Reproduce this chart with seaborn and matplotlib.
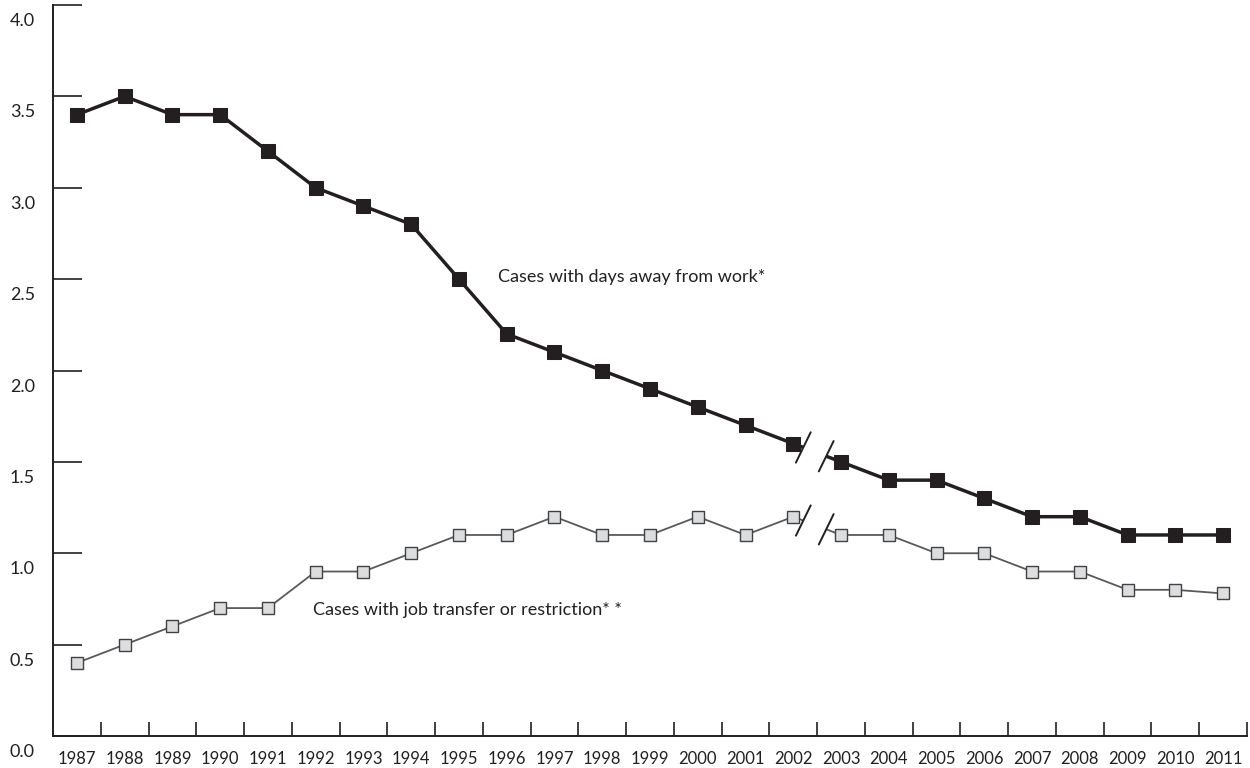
import matplotlib
matplotlib.use("Agg")
import matplotlib.pyplot as plt
import seaborn as sns
import pandas as pd
import numpy as np

# data
years = list(range(1987, 2012))
days_away = [3.4, 3.5, 3.4, 3.4, 3.2, 3.0, 2.9, 2.8, 2.5, 2.2, 2.1, 2.0, 1.9,
             1.8, 1.7, 1.6, 1.5, 1.4, 1.4, 1.3, 1.2, 1.2, 1.1, 1.1, 1.1]
job_transfer = [0.4, 0.5, 0.6, 0.7, 0.7, 0.9, 0.9, 1.0, 1.1, 1.1, 1.2, 1.1, 1.1,
                1.2, 1.1, 1.2, 1.1, 1.1, 1.0, 1.0, 0.9, 0.9, 0.8, 0.8, 0.78]
y_ticks = [0.0, 0.5, 1.0, 1.5, 2.0, 2.5, 3.0, 3.5, 4.0]
break_after = 2002  # series break between 2002 and 2003

INK = "#231f20"
GRAY_LINE = "#58595b"
GRAY_FACE = "#dcddde"

sns.set_style("white")
plt.rcParams["font.family"] = ["Lato", "DejaVu Sans"]

df = pd.DataFrame({"year": years, "days": days_away, "job": job_transfer})
df["x"] = np.arange(len(df))
brk = years.index(break_after)
pre = df[df["x"] <= brk]
post = df[df["x"] > brk]

fig = plt.figure(figsize=(12.5, 7.68), dpi=100)
ax = fig.add_axes([53 / 1250, 1 - 736 / 768, (1247 - 53) / 1250, (736 - 5) / 768])

series = [
    ("days", dict(color=INK, linewidth=2.5, marker="s", markersize=9.5,
                  markerfacecolor=INK, markeredgecolor=INK)),
    ("job", dict(color=GRAY_LINE, linewidth=1.3, marker="s", markersize=9,
                 markerfacecolor=GRAY_FACE, markeredgecolor="#414042",
                 markeredgewidth=1.0)),
]

for col, kw in series:
    for part in (pre, post):
        sns.lineplot(data=part, x="x", y=col, ax=ax, zorder=3, **kw)
    # short stubs running into the break marks
    x0, x1 = brk, brk + 1
    y0, y1 = df.loc[x0, col], df.loc[x1, col]
    for ta, tb in ((0.0, 0.21), (0.69, 1.0)):
        ax.plot([x0 + ta, x0 + tb], [y0 + (y1 - y0) * ta, y0 + (y1 - y0) * tb],
                color=kw["color"], linewidth=kw["linewidth"], zorder=2,
                solid_capstyle="butt")
    # double slash break marks
    for t in (0.21, 0.69):
        cx = x0 + t
        cy = y0 + (y1 - y0) * t
        ax.plot([cx - 0.155, cx + 0.155], [cy - 0.083, cy + 0.083],
                color=INK, linewidth=1.4, zorder=4)

ax.text(8.82, 2.51, "Cases with days away from work*", fontsize=13,
        color=INK, ha="left", va="center")
ax.text(4.95, 0.69, "Cases with job transfer or restriction* *", fontsize=13,
        color=INK, ha="left", va="center")

ax.set_xlim(-0.5, len(years) - 0.5)
ax.set_ylim(0.0, 4.0)
ax.set_xlabel("")
ax.set_ylabel("")

ax.set_xticks(df["x"])
ax.set_xticklabels([str(y) for y in years])
ax.set_xticks(np.arange(0.5, len(years), 1.0), minor=True)
ax.tick_params(axis="x", which="major", bottom=True, length=0, pad=11,
               labelsize=12, labelcolor=INK)
ax.tick_params(axis="x", which="minor", bottom=True, direction="in",
               length=10, width=1.2, color=INK)

ax.set_yticks(y_ticks)
ax.set_yticklabels([f"{v:.1f}" for v in y_ticks])
ax.tick_params(axis="y", left=True, direction="in", length=21, width=1.2,
               color=INK, pad=13, labelsize=13, labelcolor=INK)
# labels sit a little below their ticks, as in the original
offset = matplotlib.transforms.ScaledTranslation(0, -10.5 / 72, fig.dpi_scale_trans)
for lbl in ax.get_yticklabels():
    lbl.set_transform(lbl.get_transform() + offset)

for side in ("top", "right"):
    ax.spines[side].set_visible(False)
for side in ("left", "bottom"):
    ax.spines[side].set_color(INK)
    ax.spines[side].set_linewidth(1.4)

fig.savefig("out.png", dpi=100)
